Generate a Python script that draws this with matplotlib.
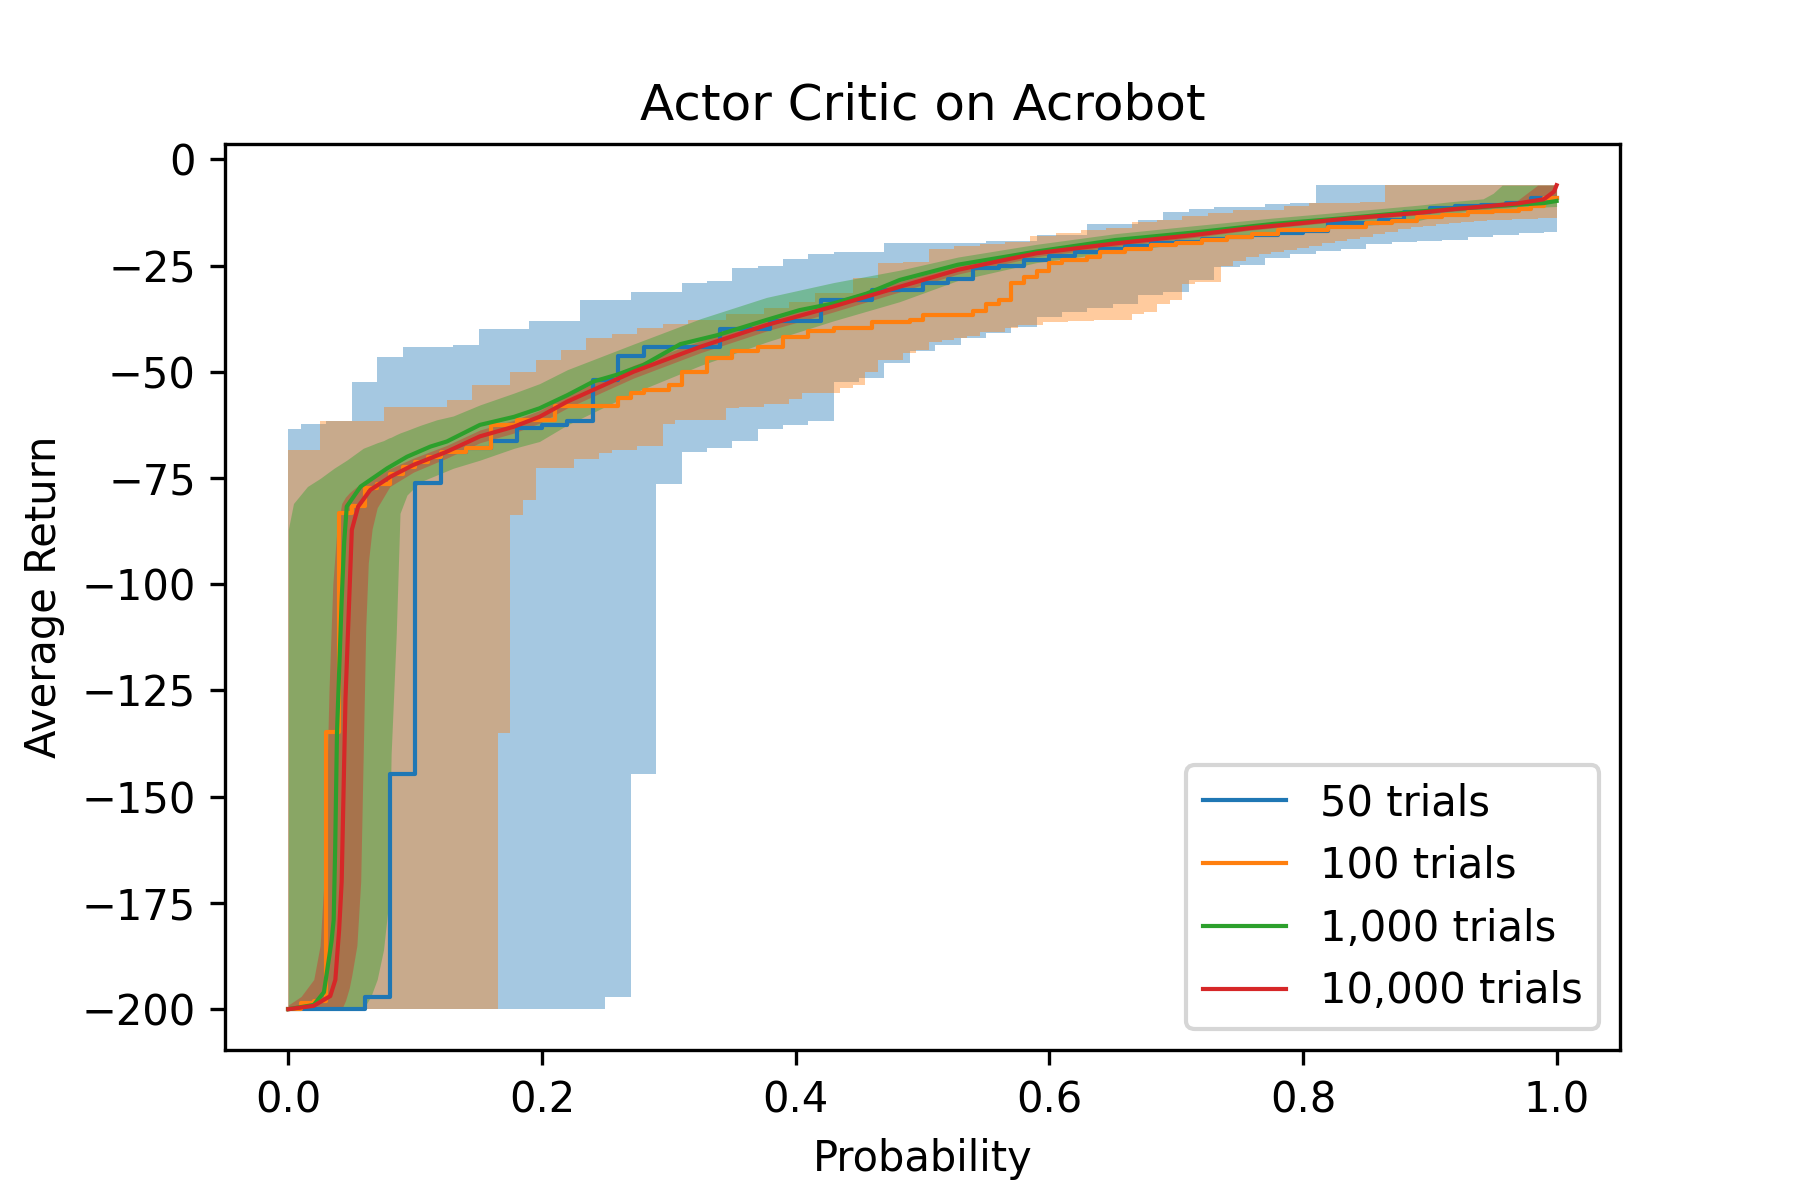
import numpy as np
import matplotlib
matplotlib.use("Agg")
import matplotlib.pyplot as plt

# ---- 50 trials: sorted returns (one value per 1/50 of probability)
blue_vals = [-200, -200, -200, -197.1, -144.6, -76.2, -68.9, -68.0, -66.2, -63.3,
             -62.5, -61.7, -51.9, -46.3, -44.1, -44.1, -44.1, -40.0, -40.0, -38.0,
             -38.0, -33.1, -33.1, -30.8, -30.8, -29.2, -28.2, -25.6, -25.0, -23.8,
             -22.8, -21.8, -21.0, -20.3, -19.8, -19.4, -18.8, -18.4, -17.8, -17.3,
             -16.8, -15.0, -15.0, -14.2, -12.5, -11.5, -11.0, -10.7, -10.4, -9.0]

# band for 50 trials, steps at 0, 0.01, 0.03, ..., 0.99, 1.0
blue_band_x = [0.0] + [0.01 + 0.02 * k for k in range(50)] + [1.0]
blue_hi = [-63.5,
           -62.3, -61.7, -52.3, -46.6, -44.1, -44.1, -43.8, -40.0, -40.0, -38.1,
           -38.1, -33.2, -33.2, -31.2, -31.2, -29.2, -28.6, -25.6, -25.0, -23.5,
           -22.4, -21.7, -21.7, -19.8, -19.8, -19.6, -19.6, -19.2, -19.2, -17.8,
           -17.8, -15.3, -15.3, -14.4, -12.5, -11.8, -11.3, -11.3, -10.6, -10.3,
           -6.1, -6.1, -6.1, -6.1, -6.1, -6.1, -6.1, -6.1, -6.1, -6.1,
           -6.1]
blue_lo = [-200,
           -200, -200, -200, -200, -200, -200, -200, -200, -200, -200,
           -200, -200, -197.2, -144.6, -76.4, -68.9, -67.9, -66.4, -63.5, -62.5,
           -61.7, -52.3, -51.5, -48.0, -45.0, -43.7, -42.0, -40.8, -39.4, -37.0,
           -36.0, -35.0, -34.0, -32.0, -31.2, -28.4, -25.4, -24.9, -23.2, -22.3,
           -21.6, -21.1, -19.9, -19.4, -19.2, -18.9, -18.4, -17.9, -17.3, -17.1,
           -17.1]

# ---- 100 trials: step breakpoints of the quantile line
orange_x = [0.0, 0.01, 0.02, 0.03, 0.04, 0.05, 0.06, 0.07, 0.08, 0.09,
            0.10, 0.11, 0.12, 0.14, 0.16, 0.18, 0.21, 0.26, 0.27, 0.28, 0.30,
            0.31, 0.33, 0.35, 0.37, 0.39, 0.41, 0.43, 0.46, 0.49, 0.50,
            0.54, 0.55, 0.56, 0.57, 0.58, 0.59, 0.60, 0.61, 0.63, 0.64,
            0.66, 0.68, 0.70, 0.72, 0.74, 0.76, 0.78, 0.82, 0.85, 0.87,
            0.89, 0.91, 0.93, 0.95, 0.97, 0.98, 0.99, 1.0]
orange_y = [-200, -198.5, -198, -134.7, -83.3, -81.5, -77.4, -76.3, -74.0, -72.5,
            -71.2, -70.0, -68.8, -68.0, -62.5, -61.3, -58.0, -56.2, -55.0, -54.3, -53.1,
            -50.0, -46.8, -45.2, -44.1, -41.9, -40.5, -39.8, -38.2, -37.8, -36.6,
            -35.8, -34.0, -33.2, -29.2, -27.6, -26.4, -24.5, -23.7, -22.9, -21.7,
            -21.0, -20.2, -19.6, -19.0, -18.3, -17.5, -16.6, -16.0, -15.1, -14.5,
            -13.5, -13.0, -12.5, -12.2, -11.8, -11.0, -9.0, -9.0]

# band for 100 trials, steps at 0, 0.005, 0.015, ..., 0.995, 1.0
orange_band_x = [0.0] + [0.005 + 0.01 * k for k in range(100)] + [1.0]
orange_hi = [-68.4,
             -68.4, -68.4, -61.7, -61.7, -61.7, -61.7, -61.7, -58.4, -58.4, -58.4,
             -58.4, -58.4, -56.6, -56.6, -53.1, -53.1, -53.1, -50.0, -50.0, -47.2,
             -47.2, -44.9, -44.9, -42.1, -42.1, -41.0, -41.0, -39.8, -39.8, -38.8,
             -38.8, -37.8, -37.8, -37.8, -36.5, -36.5, -36.5, -35.0, -35.0, -33.5,
             -33.5, -31.5, -31.5, -31.5, -27.9, -27.9, -24.5, -24.5, -24.1, -24.1,
             -21.0, -21.0, -20.3, -20.3, -20.0, -20.0, -19.4, -19.4, -18.0, -18.0,
             -17.3, -17.3, -16.7, -16.7, -16.2, -16.2, -14.8, -14.8, -14.3, -14.3,
             -13.4, -13.4, -12.7, -12.7, -11.9, -11.9, -11.9, -11.9, -11.0, -11.0,
             -10.2, -10.2, -10.2, -10.2, -10.0, -10.0, -6.1, -6.1, -6.1, -6.1,
             -6.1, -6.1, -6.1, -6.1, -6.1, -6.1, -6.1, -6.1, -6.1, -6.1,
             -6.1]
orange_lo = [-200,
             -200, -200, -200, -200, -200, -200, -200, -200, -200, -200,
             -200, -200, -200, -200, -200, -200, -135.1, -83.7, -80.2, -72.7,
             -72.7, -72.7, -70.6, -70.6, -69.2, -68.4, -68.4, -67.4, -67.4, -62.3,
             -61.4, -61.4, -61.4, -61.4, -58.6, -58.2, -58.2, -57.6, -57.6, -56.4,
             -54.9, -54.9, -54.9, -53.9, -53.0, -50.0, -47.2, -47.2, -45.5, -44.9,
             -43.0, -42.5, -42.0, -41.6, -40.6, -40.6, -39.8, -39.0, -39.0, -38.2,
             -38.2, -38.0, -38.0, -37.8, -37.8, -37.8, -36.5, -35.9, -34.0, -33.0,
             -29.3, -28.8, -28.8, -25.0, -24.0, -23.0, -22.4, -21.8, -21.3, -20.8,
             -20.3, -19.8, -19.3, -18.8, -18.2, -17.6, -17.0, -16.5, -16.0, -15.6,
             -15.3, -15.0, -14.8, -14.6, -14.4, -14.3, -14.1, -14.0, -13.9, -13.9,
             -13.9]

# ---- 1,000 trials
green_x = [0.0, 0.02, 0.028, 0.031, 0.034, 0.0357, 0.0369, 0.0383, 0.042, 0.044,
           0.046, 0.057, 0.078, 0.0935, 0.112, 0.125, 0.151, 0.178, 0.198, 0.22,
           0.2405, 0.259, 0.28, 0.309, 0.338, 0.377, 0.403, 0.43, 0.456, 0.482,
           0.528, 0.59, 0.652, 0.715, 0.777, 0.839, 0.891, 0.95, 0.99, 1.0]
green_y = [-200, -199, -196, -190, -184, -179, -161.8, -135, -103.7, -90,
           -81.7, -77.0, -72.7, -70.0, -67.6, -66.4, -62.5, -60.6, -58.6, -55.5,
           -52.3, -50.7, -48.4, -43.5, -41.4, -37.8, -35.5, -33.9, -31.6, -28.4,
           -24.8, -21.7, -19.0, -17.2, -15.2, -13.7, -12.3, -11.0, -10.3, -9.8]
green_band_x = [0.0, 0.004, 0.015, 0.025, 0.036, 0.046, 0.059, 0.065, 0.07, 0.075,
                0.079, 0.081, 0.085, 0.088, 0.0935, 0.104, 0.117, 0.13, 0.151, 0.178,
                0.198, 0.22, 0.272, 0.325, 0.377, 0.43, 0.482, 0.528, 0.59, 0.652,
                0.715, 0.777, 0.839, 0.891, 0.916, 0.942, 0.95, 0.957, 0.969, 1.0]
green_hi = [-87, -81, -77, -75.1, -72.7, -70.8, -68.0, -67.3, -66.7, -66.2,
            -65.6, -65.4, -64.8, -64.4, -63.8, -62.6, -61.3, -60.4, -57.8, -55.0,
            -52.8, -49.5, -43.5, -37.5, -32.5, -29.0, -26.1, -23.0, -20.0, -17.5,
            -15.6, -13.8, -12.2, -10.8, -10.0, -9.3, -8.0, -6.1, -6.1, -6.1]
green_lo = [-200, -200, -200, -200, -200, -200, -200, -197, -193, -186,
            -175, -140, -112, -83.3, -79.0, -75.9, -74.3, -72.7, -70.8, -68.0,
            -66.4, -62.5, -55.0, -48.5, -43.0, -38.0, -33.5, -28.5, -24.3, -21.8,
            -19.5, -17.5, -15.8, -14.4, -12.7, -12.0, -11.8, -11.6, -11.5, -11.1]

# ---- 10,000 trials
red_x = [0.0, 0.02, 0.033, 0.037, 0.040, 0.042, 0.045, 0.05, 0.055, 0.0646,
         0.0804, 0.0987, 0.125, 0.151, 0.178, 0.198, 0.22, 0.272, 0.325, 0.377,
         0.43, 0.482, 0.528, 0.59, 0.652, 0.714, 0.758, 0.837, 0.891, 0.916,
         0.969, 0.99, 0.998, 1.0]
red_y = [-200, -199.2, -196.9, -193.1, -181.3, -170, -127, -87.2, -81.7, -77.8,
         -74.7, -71.9, -68.8, -65.2, -62.9, -60.6, -57.0, -50.0, -44.1, -39.0,
         -34.6, -30.0, -26.0, -22.1, -19.8, -17.8, -16.2, -13.9, -12.6, -11.8,
         -10.4, -9.4, -7.6, -6.1]
red_band_x = [0.0, 0.01, 0.02, 0.025, 0.028, 0.03, 0.032, 0.035, 0.038, 0.042,
              0.045, 0.048, 0.05, 0.054, 0.057, 0.059, 0.061, 0.063, 0.066, 0.07,
              0.08, 0.0987, 0.125, 0.151, 0.178, 0.198, 0.22, 0.272, 0.325, 0.377,
              0.43, 0.482, 0.528, 0.59, 0.652, 0.714, 0.758, 0.837, 0.891, 0.916,
              0.969, 0.985, 1.0]
red_hi = [-199, -197, -193, -185, -170, -150, -125, -100, -88, -81,
          -79.5, -78.5, -78, -77, -76.5, -76, -75.8, -75.5, -75, -74.5,
          -72.8, -70.3, -67.3, -63.7, -61.4, -59.1, -55.5, -48.5, -42.7, -37.6,
          -33.3, -28.8, -25.0, -21.3, -19.1, -17.2, -15.7, -13.4, -12.1, -11.3,
          -9.7, -6.1, -6.1]
red_lo = [-200, -200, -200, -200, -200, -200, -200, -200, -200, -200,
          -198, -195, -192, -185, -170, -140, -110, -95, -87, -82,
          -77, -73.6, -70.3, -66.7, -64.4, -62.1, -58.5, -51.5, -45.5, -40.4,
          -35.9, -31.2, -27.0, -22.9, -20.5, -18.4, -16.7, -14.4, -13.1, -12.3,
          -11.1, -10.5, -9.8]

labels = ["50 trials", "100 trials", "1,000 trials", "10,000 trials"]

fig, ax = plt.subplots(figsize=(6, 4), dpi=300)
fig.subplots_adjust(left=0.125, right=0.9, top=0.88, bottom=0.125)

# confidence bands first
ax.fill_between(blue_band_x, blue_lo, blue_hi, step="post", color="C0", alpha=0.4, lw=0)
ax.fill_between(orange_band_x, orange_lo, orange_hi, step="post", color="C1", alpha=0.4, lw=0)
ax.fill_between(green_band_x, green_lo, green_hi, color="C2", alpha=0.4, lw=0)
ax.fill_between(red_band_x, red_lo, red_hi, color="C3", alpha=0.4, lw=0)

# quantile curves on top
bx = np.arange(len(blue_vals) + 1) / len(blue_vals)
ax.plot(bx, blue_vals + [blue_vals[-1]], drawstyle="steps-post", color="C0", lw=1.0, label=labels[0])
ax.plot(orange_x, orange_y, drawstyle="steps-post", color="C1", lw=1.0, label=labels[1])
ax.plot(green_x, green_y, color="C2", lw=1.0, label=labels[2])
ax.plot(red_x, red_y, color="C3", lw=1.0, label=labels[3])

ax.set_xlim(-0.05, 1.05)
ax.set_ylim(-209.6, 3.6)
ax.set_title("Actor Critic on Acrobot")
ax.set_xlabel("Probability")
ax.set_ylabel("Average Return")
ax.legend(loc="lower right")

fig.savefig("out.png", dpi=300)
